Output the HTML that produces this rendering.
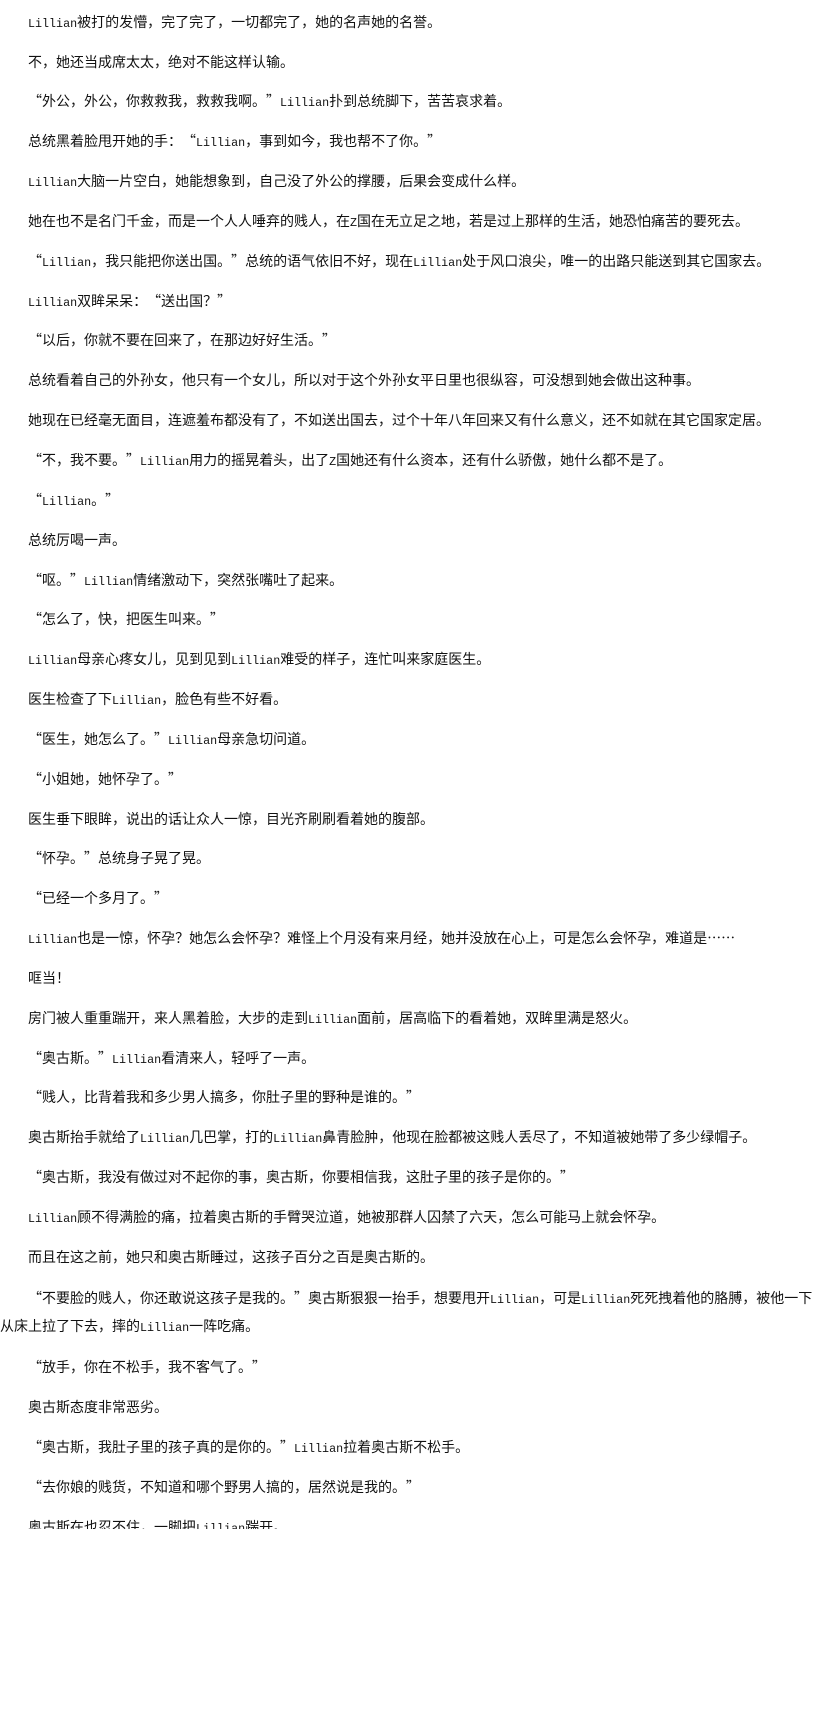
<!DOCTYPE html>
<html><head><meta charset="utf-8"><style>
html,body{margin:0;padding:0;background:#fff;width:835px;height:1621px;overflow:hidden}
.wrap{position:absolute;left:0;top:8.7px;width:835px}
p{margin:0 0 13.85px 0;height:26px;text-indent:28px;font-size:14px;line-height:26px;color:#111;font-family:"WenQuanYi Zen Hei","Noto Sans CJK SC",sans-serif;white-space:nowrap;overflow:visible}
p.two{height:56px;line-height:28px;margin-bottom:14.75px}
.l{font-family:"Liberation Mono",monospace;font-size:11.7px;line-height:10px}
.o,.c{display:inline-block;width:14px;text-indent:0;line-height:10px}
.o{text-align:right}
.c{text-align:left}
.cover{position:absolute;left:0;top:1529px;width:835px;height:200px;background:#fff}
</style></head><body>
<div class="wrap">
<p><span class="l">Lillian</span>被打的发懵，完了完了，一切都完了，她的名声她的名誉。</p>
<p>不，她还当成席太太，绝对不能这样认输。</p>
<p><span class="o">“</span>外公，外公，你救救我，救救我啊。<span class="c">”</span><span class="l">Lillian</span>扑到总统脚下，苦苦哀求着。</p>
<p>总统黑着脸甩开她的手：<span class="o">“</span><span class="l">Lillian</span>，事到如今，我也帮不了你。<span class="c">”</span></p>
<p><span class="l">Lillian</span>大脑一片空白，她能想象到，自己没了外公的撑腰，后果会变成什么样。</p>
<p>她在也不是名门千金，而是一个人人唾弃的贱人，在<span class="l">Z</span>国在无立足之地，若是过上那样的生活，她恐怕痛苦的要死去。</p>
<p><span class="o">“</span><span class="l">Lillian</span>，我只能把你送出国。<span class="c">”</span>总统的语气依旧不好，现在<span class="l">Lillian</span>处于风口浪尖，唯一的出路只能送到其它国家去。</p>
<p><span class="l">Lillian</span>双眸呆呆：<span class="o">“</span>送出国？<span class="c">”</span></p>
<p><span class="o">“</span>以后，你就不要在回来了，在那边好好生活。<span class="c">”</span></p>
<p>总统看着自己的外孙女，他只有一个女儿，所以对于这个外孙女平日里也很纵容，可没想到她会做出这种事。</p>
<p>她现在已经毫无面目，连遮羞布都没有了，不如送出国去，过个十年八年回来又有什么意义，还不如就在其它国家定居。</p>
<p><span class="o">“</span>不，我不要。<span class="c">”</span><span class="l">Lillian</span>用力的摇晃着头，出了<span class="l">Z</span>国她还有什么资本，还有什么骄傲，她什么都不是了。</p>
<p><span class="o">“</span><span class="l">Lillian</span>。<span class="c">”</span></p>
<p>总统厉喝一声。</p>
<p><span class="o">“</span>呕。<span class="c">”</span><span class="l">Lillian</span>情绪激动下，突然张嘴吐了起来。</p>
<p><span class="o">“</span>怎么了，快，把医生叫来。<span class="c">”</span></p>
<p><span class="l">Lillian</span>母亲心疼女儿，见到见到<span class="l">Lillian</span>难受的样子，连忙叫来家庭医生。</p>
<p>医生检查了下<span class="l">Lillian</span>，脸色有些不好看。</p>
<p><span class="o">“</span>医生，她怎么了。<span class="c">”</span><span class="l">Lillian</span>母亲急切问道。</p>
<p><span class="o">“</span>小姐她，她怀孕了。<span class="c">”</span></p>
<p>医生垂下眼眸，说出的话让众人一惊，目光齐刷刷看着她的腹部。</p>
<p><span class="o">“</span>怀孕。<span class="c">”</span>总统身子晃了晃。</p>
<p><span class="o">“</span>已经一个多月了。<span class="c">”</span></p>
<p><span class="l">Lillian</span>也是一惊，怀孕？她怎么会怀孕？难怪上个月没有来月经，她并没放在心上，可是怎么会怀孕，难道是……</p>
<p>哐当！</p>
<p>房门被人重重踹开，来人黑着脸，大步的走到<span class="l">Lillian</span>面前，居高临下的看着她，双眸里满是怒火。</p>
<p><span class="o">“</span>奥古斯。<span class="c">”</span><span class="l">Lillian</span>看清来人，轻呼了一声。</p>
<p><span class="o">“</span>贱人，比背着我和多少男人搞多，你肚子里的野种是谁的。<span class="c">”</span></p>
<p>奥古斯抬手就给了<span class="l">Lillian</span>几巴掌，打的<span class="l">Lillian</span>鼻青脸肿，他现在脸都被这贱人丢尽了，不知道被她带了多少绿帽子。</p>
<p><span class="o">“</span>奥古斯，我没有做过对不起你的事，奥古斯，你要相信我，这肚子里的孩子是你的。<span class="c">”</span></p>
<p><span class="l">Lillian</span>顾不得满脸的痛，拉着奥古斯的手臂哭泣道，她被那群人囚禁了六天，怎么可能马上就会怀孕。</p>
<p>而且在这之前，她只和奥古斯睡过，这孩子百分之百是奥古斯的。</p>
<p class="two"><span class="o">“</span>不要脸的贱人，你还敢说这孩子是我的。<span class="c">”</span>奥古斯狠狠一抬手，想要甩开<span class="l">Lillian</span>，可是<span class="l">Lillian</span>死死拽着他的胳膊，被他一下<br>从床上拉了下去，摔的<span class="l">Lillian</span>一阵吃痛。</p>
<p><span class="o">“</span>放手，你在不松手，我不客气了。<span class="c">”</span></p>
<p>奥古斯态度非常恶劣。</p>
<p><span class="o">“</span>奥古斯，我肚子里的孩子真的是你的。<span class="c">”</span><span class="l">Lillian</span>拉着奥古斯不松手。</p>
<p><span class="o">“</span>去你娘的贱货，不知道和哪个野男人搞的，居然说是我的。<span class="c">”</span></p>
<p>奥古斯在也忍不住，一脚把<span class="l">Lillian</span>踹开。</p>
</div>
<div class="cover"></div>
</body></html>
